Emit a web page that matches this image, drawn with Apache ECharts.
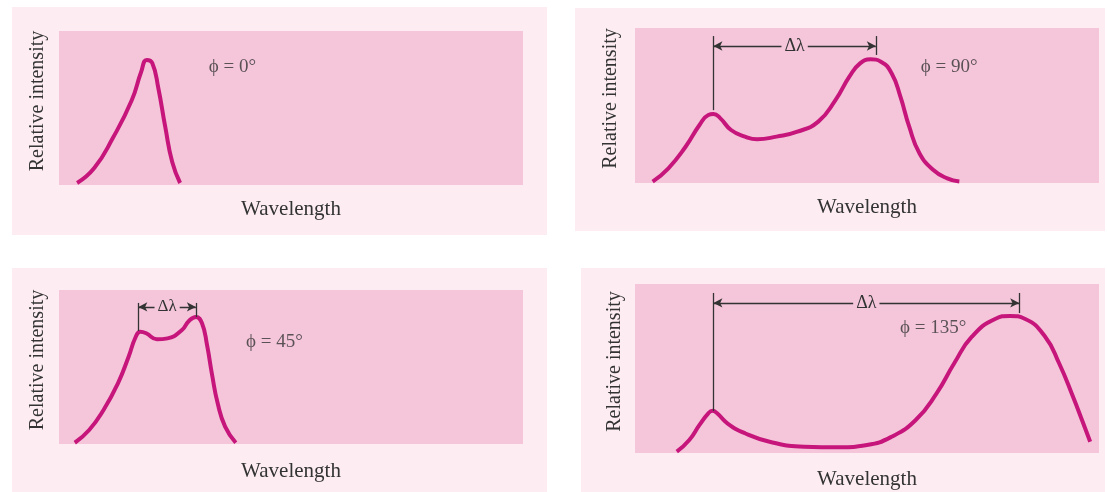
<!DOCTYPE html>
<html>
<head>
<meta charset="utf-8">
<script src="https://cdn.jsdelivr.net/npm/echarts@6/dist/echarts.min.js"></script>
<style>
html,body{margin:0;padding:0;background:#ffffff;}
#chart{width:1107px;height:492px;}
</style>
</head>
<body>
<div id="chart"></div>
<script>
// ---- Data (wavelength and relative intensity in arbitrary units, 0-100) ----
const panelTitles = ['ϕ = 0°', 'ϕ = 90°', 'ϕ = 45°', 'ϕ = 135°'];
const xAxisTitle = 'Wavelength';
const yAxisTitle = 'Relative intensity';
const deltaLabel = 'Δλ';

// phi = 0°
const wl0  = [3.9, 7.6, 11.6, 15.7, 17.7, 18.9, 20.1, 21.4, 22.9, 24.4, 26.1];
const int0 = [1.3, 11.0, 30.5, 55.2, 73.4, 81.2, 79.2, 63.0, 37.7, 14.9, 1.3];

// phi = 90°
const wl90  = [3.8, 7.2, 10.9, 13.9, 15.8, 16.9, 18.4, 20.7, 23.7, 26.3, 30.5, 35.0, 39.5, 43.2, 46.2, 48.5, 50.8, 53.0, 55.3, 57.2, 59.1, 61.3, 64.3, 67.3, 69.9];
const int90 = [0.9, 9.5, 23.4, 37.4, 43.9, 44.5, 41.7, 34.2, 29.9, 28.2, 29.9, 33.1, 39.6, 53.5, 68.6, 77.2, 79.8, 78.3, 70.8, 55.7, 36.3, 19.2, 8.4, 3.0, 0.9];

// phi = 45°
const wl45  = [3.4, 6.5, 9.6, 12.7, 15.0, 16.5, 17.5, 18.8, 21.1, 23.4, 26.5, 28.0, 29.5, 30.8, 31.9, 33.0, 34.2, 35.8, 38.1];
const int45 = [0.8, 9.1, 22.1, 39.4, 56.7, 69.3, 72.9, 71.9, 68.0, 68.6, 74.0, 79.9, 82.5, 78.6, 64.3, 44.8, 26.4, 11.3, 0.8];

// phi = 135°
const wl135  = [9.0, 11.7, 13.9, 15.8, 16.7, 17.7, 19.9, 23.7, 29.0, 36.5, 44.0, 50.0, 55.3, 60.5, 65.0, 68.8, 72.6, 77.6, 80.8, 84.1, 88.4, 91.4, 94.4, 96.6, 98.1];
const int135 = [0.8, 7.7, 16.6, 23.5, 25.0, 23.5, 17.6, 11.7, 6.7, 3.7, 3.4, 4.7, 9.6, 19.5, 35.3, 53.1, 68.8, 79.3, 81.1, 79.3, 68.8, 53.1, 33.3, 17.6, 6.7];

// Δλ brackets: [left x, right x], bottoms of the two ticks, top of ticks, arrow height
const bracketX90   = [16.9, 51.9];
const bracketBot90 = [47.0, 82.6];
const bracketX45   = [17.1, 29.5];
const bracketBot45 = [73.4, 82.5];
const bracketX135  = [16.9, 82.8];
const bracketBot135= [24.9, 82.8];
const bracketTop   = [94.8, 91.6, 94.7];   // 90°, 45°, 135°
const arrowY       = [88.4, 89.0, 88.8];   // 90°, 45°, 135°

// Label anchor points (data coords) for the ϕ annotations
const phiPos0   = [32.3, 76.6];
const phiPos90  = [61.6, 74.8];
const phiPos45  = [40.3, 66.2];
const phiPos135 = [57.1, 74.0];

// ---- Styles ----
const FONT = '"Liberation Serif", "DejaVu Serif", serif';
const CURVE = '#c6157b';
const INNER = '#f5c6da';
const OUTER = '#fdedf3';
const TEXT = '#333333';

const grids = [
  {left: 59,  top: 31,  width: 464, height: 154},
  {left: 635, top: 28,  width: 464, height: 155},
  {left: 59,  top: 290, width: 464, height: 154},
  {left: 635, top: 284, width: 464, height: 169}
];
const xNameGaps = [14, 14, 17, 16];
const yNameGaps = [11, 14, 11, 10];

function zip(a, b) { return a.map((v, i) => [v, b[i]]); }

const option = {
  animation: false,
  backgroundColor: '#ffffff',
  graphic: [
    {type: 'rect', shape: {x: 12,  y: 7,   width: 535, height: 228}, style: {fill: OUTER}, z: -10},
    {type: 'rect', shape: {x: 575, y: 8,   width: 530, height: 223}, style: {fill: OUTER}, z: -10},
    {type: 'rect', shape: {x: 12,  y: 268, width: 535, height: 224}, style: {fill: OUTER}, z: -10},
    {type: 'rect', shape: {x: 581, y: 268, width: 524, height: 224}, style: {fill: OUTER}, z: -10}
  ],
  grid: grids.map(g => Object.assign({show: true, backgroundColor: INNER, borderWidth: 0}, g)),
  xAxis: grids.map((g, i) => ({
    type: 'value', gridIndex: i, min: 0, max: 100,
    name: xAxisTitle, nameLocation: 'middle', nameGap: xNameGaps[i],
    nameTextStyle: {fontFamily: FONT, fontSize: 21, color: TEXT},
    axisLine: {show: false}, axisTick: {show: false}, axisLabel: {show: false}, splitLine: {show: false}
  })),
  yAxis: grids.map((g, i) => ({
    type: 'value', gridIndex: i, min: 0, max: 100,
    name: yAxisTitle, nameLocation: 'middle', nameGap: yNameGaps[i],
    nameTextStyle: {fontFamily: FONT, fontSize: 20, color: TEXT, padding: [0, 0, 0, 14]},
    axisLine: {show: false}, axisTick: {show: false}, axisLabel: {show: false}, splitLine: {show: false}
  })),
  series: []
};

const curves = [zip(wl0, int0), zip(wl90, int90), zip(wl45, int45), zip(wl135, int135)];
const phiPos = [phiPos0, phiPos90, phiPos45, phiPos135];

curves.forEach((d, i) => {
  option.series.push({
    type: 'line', xAxisIndex: i, yAxisIndex: i, data: d,
    smooth: 0.5, symbol: 'none', silent: true,
    lineStyle: {color: CURVE, width: 4}, z: 3
  });
  option.series.push({
    type: 'scatter', xAxisIndex: i, yAxisIndex: i, data: [phiPos[i]],
    symbolSize: 0, silent: true,
    label: {show: true, position: 'right', distance: 0, formatter: panelTitles[i],
            fontFamily: FONT, fontSize: 19, color: TEXT}
  });
});

// Δλ brackets for panels 1 (90°), 2 (45°), 3 (135°)
const brackets = [
  {panel: 1, x: bracketX90,  bot: bracketBot90,  k: 0, fs: 18},
  {panel: 2, x: bracketX45,  bot: bracketBot45,  k: 1, fs: 17},
  {panel: 3, x: bracketX135, bot: bracketBot135, k: 2, fs: 18}
];
brackets.forEach(b => {
  const top = bracketTop[b.k], ay = arrowY[b.k];
  option.series.push({
    type: 'line', xAxisIndex: b.panel, yAxisIndex: b.panel, data: [], silent: true,
    markLine: {
      silent: true, animation: false, symbol: ['none', 'none'],
      lineStyle: {color: TEXT, width: 1.3, type: 'solid'},
      label: {show: false},
      data: [
        [{coord: [b.x[0], top]}, {coord: [b.x[0], b.bot[0]]}],
        [{coord: [b.x[1], top]}, {coord: [b.x[1], b.bot[1]]}]
      ]
    }
  });
  option.series.push({
    type: 'line', xAxisIndex: b.panel, yAxisIndex: b.panel, data: [], silent: true,
    markLine: {
      silent: true, animation: false, symbol: ['arrow', 'arrow'], symbolSize: [7, 9],
      lineStyle: {color: TEXT, width: 1.3, type: 'solid'},
      label: {show: true, position: 'middle', distance: 0, verticalAlign: 'middle',
              formatter: deltaLabel,
              fontFamily: FONT, fontSize: b.fs, color: TEXT,
              backgroundColor: INNER, padding: [0, 3]},
      data: [[{coord: [b.x[0], ay]}, {coord: [b.x[1], ay]}]]
    }
  });
});

const chart = echarts.init(document.getElementById('chart'), null, {renderer: 'canvas'});
chart.setOption(option);
</script>
</body>
</html>
